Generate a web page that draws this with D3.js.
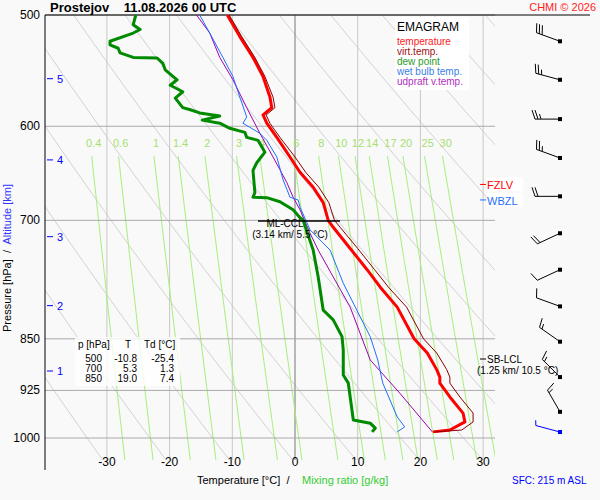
<!DOCTYPE html>
<html>
<head>
<meta charset="utf-8">
<script src="https://cdn.jsdelivr.net/npm/d3@7"></script>
<style>
body { margin:0; background:#f9f9f9; }
svg { font-family: Arial, "Liberation Sans", sans-serif; }
</style>
</head>
<body>
<div id="chart-area"></div>
<script>
// ---- data ----
var tempP = [500,518,536,553,572,582,589,597,611,631,647,663,680,700,708,733,759,781,807,850,870,894,905,914,935,960,974,987,990];
var tempT = [-10.8,-8.8,-6.7,-5.1,-4.0,-3.7,-5.1,-4.5,-2.9,-0.8,0.8,2.9,4.5,5.3,6.1,8.8,11.5,13.6,16.3,19.0,21.1,22.6,23.1,23.1,24.7,26.8,27.1,24.7,22.0];
var virtT = [-10.5,-8.5,-6.4,-4.8,-3.5,-3.2,-4.6,-4.0,-2.4,0.0,1.7,3.8,5.4,6.3,7.2,10.0,12.7,14.9,17.8,20.5,22.6,24.2,24.7,24.7,26.3,28.4,28.4,26.6,22.4];
var dewP = [500,508,512,515,522,525,528,532,536,536.5,541,547,556,561,567,573,582,584,587,590,594,597,602,606,611,614,626,637,645,669,674,674.5,679,688,697,700,735,768,811,824,847,866,902,914,935,971,976,984,990];
var dewT = [-25.4,-25.8,-24.7,-25.8,-29.5,-29.5,-28.2,-27.9,-25.8,-22.0,-21.1,-20.7,-18.8,-19.9,-17.9,-19.1,-17.9,-16.7,-15.2,-12.0,-14.8,-12.0,-10.4,-8.0,-7.7,-5.9,-4.8,-6.1,-6.7,-6.4,-6.7,-4.5,-2.4,-0.3,0.8,1.3,2.9,3.7,4.5,6.1,7.5,7.7,7.7,8.5,8.8,9.3,12.0,12.8,12.3];
var wetP = [500,515,536,553,572,591,597,607,614,631,655,674,677,685,711,735,776,820,847,880,914,966,982,990];
var wetT = [-15.2,-13.6,-11.5,-9.9,-8.8,-7.7,-8.3,-5.6,-4.5,-2.9,-1.9,-0.8,0.5,0.8,2.4,5.6,7.7,10.4,12.0,13.2,14.0,16.3,17.5,16.3];
var parcelP = [500,515,536,556,582,607,631,658,674,688,715,735,768,807,880,929,990];
var parcelT = [-15.7,-13.6,-12.0,-9.9,-7.7,-5.6,-3.5,-1.3,-0.3,0.8,2.4,3.7,6.1,8.8,12.0,16.7,21.9];

var windP   = [522,556,593,632,673,715,759,806,854,905,958,990];
var windDir = [290,285,270,290,270,245,245,290,305,315,330,285];
var windKt  = [30,25,25,25,20,20,10,10,15,15,15,5];

var pressureTicks = [500,600,700,850,925,1000];
var tempTicks = [-30,-20,-10,0,10,20,30];
var mixRatios = [0.4,0.6,1,1.4,2,3,4,6,8,10,12,14,17,20,25,30];
var altTicks = [{km:5,p:555},{km:4,p:634},{km:3,p:719},{km:2,p:805},{km:1,p:896}];
var tableRows = [["500","-10.8","-25.4"],["700","5.3","1.3"],["850","19.0","7.4"]];

// ---- setup ----
var svg = d3.select("#chart-area").append("svg")
    .attr("width", 600).attr("height", 500);
svg.append("rect").attr("width",600).attr("height",500).attr("fill","#f9f9f9");

var y = d3.scaleLog().domain([500,1000]).range([15,438]);
var x = d3.scaleLinear().domain([-40,40]).range([295-250.8,295+250.8]);
var L = 45, R = 495, T = 15, B = 460;

svg.append("clipPath").attr("id","grid").append("rect")
    .attr("x",L).attr("y",T).attr("width",R-L).attr("height",B-T);
svg.append("clipPath").attr("id","plot").append("rect")
    .attr("x",L).attr("y",T).attr("width",R-L).attr("height",470-T);

var grid = svg.append("g").attr("clip-path","url(#grid)");
var line = d3.line().x(function(d){return x(d[1]);}).y(function(d){return y(d[0]);});

// dry adiabats
var pr = d3.range(480, 1061, 10);
d3.range(230, 480, 10).forEach(function(th){
    grid.append("path")
        .attr("d", line(pr.map(function(p){ return [p, th*Math.pow(p/1000,0.286)-273.15]; })))
        .attr("fill","none").attr("stroke","#d2d2d2").attr("stroke-width",1);
});

// isotherms
tempTicks.forEach(function(t){
    grid.append("line").attr("x1",x(t)).attr("x2",x(t)).attr("y1",T).attr("y2",B)
        .attr("stroke", t===0 ? "#777" : "#c8c8c8");
});

// mixing ratio lines
function tdFromW(w,p){
    var e = w*p/(622+w), a = Math.log(e/6.112);
    return 243.5*a/(17.67-a);
}
var prw = d3.range(630, 1041, 10);
mixRatios.forEach(function(w){
    grid.append("path")
        .attr("d", line(prw.map(function(p){ return [p, tdFromW(w,p)]; })))
        .attr("fill","none").attr("stroke","#a6f07a").attr("stroke-width",1);
    svg.append("text").attr("x", x(tdFromW(w,650))).attr("y",147)
        .attr("text-anchor","middle").attr("font-size",11).attr("fill","#a6e070").text(w);
});

// pressure lines
pressureTicks.forEach(function(p){
    svg.append("line").attr("x1",L).attr("x2",R).attr("y1",y(p)).attr("y2",y(p))
        .attr("stroke","#aaa");
    svg.append("text").attr("x",40).attr("y",y(p)+4).attr("text-anchor","end")
        .attr("font-size",12).text(p);
});
svg.append("line").attr("x1",L).attr("x2",590).attr("y1",T).attr("y2",T).attr("stroke","#000");
svg.append("line").attr("x1",L).attr("x2",L).attr("y1",T).attr("y2",470).attr("stroke","#000");

tempTicks.forEach(function(t){
    svg.append("text").attr("x",x(t)).attr("y",466).attr("text-anchor","middle")
        .attr("font-size",12).text(t);
});

altTicks.forEach(function(a){
    svg.append("line").attr("x1",47).attr("x2",53).attr("y1",y(a.p)).attr("y2",y(a.p)).attr("stroke","#00f");
    svg.append("text").attr("x",57).attr("y",y(a.p)+4).attr("font-size",11).attr("fill","#00f").text(a.km);
});

// ---- profiles ----
var plot = svg.append("g").attr("clip-path","url(#plot)");
function profile(P, V, color, w){
    plot.append("path").attr("d", line(P.map(function(p,i){ return [p, V[i]]; })))
        .attr("fill","none").attr("stroke",color).attr("stroke-width",w).attr("stroke-linejoin","round");
}
profile(parcelP, parcelT, "#a000b0", 1);
profile(wetP, wetT, "#1f6fff", 1);
profile(dewP, dewT, "#008a00", 3);
profile(tempP, tempT, "#ff0000", 3);
profile(tempP, virtT, "#8b0000", 1);

// ---- level annotations ----
svg.append("line").attr("x1",258).attr("x2",340).attr("y1",221).attr("y2",221).attr("stroke","#000").attr("stroke-width",1.5);
svg.append("text").attr("x",285).attr("y",227).attr("text-anchor","middle").attr("font-size",10).text("ML-CCL");
svg.append("text").attr("x",290).attr("y",238).attr("text-anchor","middle").attr("font-size",10).text("(3.14 km/ 5.5 °C)");

svg.append("line").attr("x1",480).attr("x2",486).attr("y1",y(660)).attr("y2",y(660)).attr("stroke","#f00");
svg.append("rect").attr("x",487).attr("y",y(660)-7).attr("width",36).attr("height",14).attr("fill","#fff");
svg.append("text").attr("x",487).attr("y",y(660)+5).attr("font-size",11).attr("fill","#f00").text("FZLV");
svg.append("line").attr("x1",480).attr("x2",486).attr("y1",y(677)).attr("y2",y(677)).attr("stroke","#1f6fff");
svg.append("rect").attr("x",487).attr("y",y(677)-7).attr("width",36).attr("height",14).attr("fill","#fff");
svg.append("text").attr("x",487).attr("y",y(677)+5).attr("font-size",11).attr("fill","#1f6fff").text("WBZL");

svg.append("line").attr("x1",480).attr("x2",486).attr("y1",359).attr("y2",359).attr("stroke","#000");
svg.append("text").attr("x",487).attr("y",363).attr("font-size",10).text("SB-LCL");
svg.append("text").attr("x",477).attr("y",374).attr("font-size",10).text("(1.25 km/ 10.5 °C)");

// ---- legend ----
svg.append("rect").attr("x",395).attr("y",17).attr("width",74).attr("height",73).attr("fill","#fff");
svg.append("text").attr("x",397).attr("y",31).attr("font-size",12).text("EMAGRAM");
var legend = [["temperature","#ff2020"],["virt.temp.","#a01010"],["dew point","#2a9a2a"],["wet bulb temp.","#3a80e8"],["udpraft v.temp.","#b030c0"]];
legend.forEach(function(l,i){
    svg.append("text").attr("x",397).attr("y",45+i*10).attr("font-size",10).attr("fill",l[1]).text(l[0]);
});

// ---- table ----
svg.append("rect").attr("x",75).attr("y",337).attr("width",105).attr("height",49).attr("fill","#fff").attr("opacity",0.8);
svg.append("text").attr("x",78).attr("y",348).attr("font-size",10).text("p [hPa]");
svg.append("text").attr("x",128).attr("y",348).attr("text-anchor","middle").attr("font-size",10).text("T");
svg.append("text").attr("x",144).attr("y",348).attr("font-size",10).text("Td [°C]");
tableRows.forEach(function(r,i){
    var yy = 362 + i*10;
    svg.append("text").attr("x",102).attr("y",yy).attr("text-anchor","end").attr("font-size",10).text(r[0]);
    svg.append("text").attr("x",137).attr("y",yy).attr("text-anchor","end").attr("font-size",10).text(r[1]);
    svg.append("text").attr("x",174).attr("y",yy).attr("text-anchor","end").attr("font-size",10).text(r[2]);
});

// ---- wind barbs ----
windP.forEach(function(p,i){
    var cx = 560, cy = (i === windP.length-1) ? 432 : y(p);
    var col = (i === windP.length-1) ? "#00f" : "#000";
    var a = windDir[i]*Math.PI/180;
    var ux = Math.sin(a), uy = -Math.cos(a);          // toward where wind comes from
    var len = 25, tx = cx + ux*len, ty = cy + uy*len;
    var g = svg.append("g").attr("stroke",col).attr("fill","none");
    g.append("line").attr("x1",cx).attr("y1",cy).attr("x2",tx).attr("y2",ty);
    g.append("rect").attr("x",cx-2).attr("y",cy-2).attr("width",4).attr("height",4).attr("fill",col).attr("stroke","none");
    var nx = -uy, ny = ux;
    if (ny > 0 || (ny === 0 && nx > 0)) { nx = -nx; ny = -ny; }
    var kt = windKt[i], k = 0;
    while (kt >= 10) {
        var bx = tx - ux*k*3, by = ty - uy*k*3;
        g.append("line").attr("x1",bx).attr("y1",by).attr("x2",bx+nx*9+ux*3).attr("y2",by+ny*9+uy*3);
        kt -= 10; k++;
    }
    if (kt >= 5) {
        var hx = tx - ux*(k === 0 ? 0 : k*3), hy = ty - uy*(k === 0 ? 0 : k*3);
        g.append("line").attr("x1",hx).attr("y1",hy).attr("x2",hx+nx*5+ux*1.5).attr("y2",hy+ny*5+uy*1.5);
    }
});

// ---- titles ----
svg.append("text").attr("x",50).attr("y",12).attr("font-size",13).attr("font-weight","bold")
    .attr("xml:space","preserve").text("Prostejov    11.08.2026 00 UTC");
svg.append("text").attr("x",596).attr("y",11).attr("text-anchor","end").attr("font-size",11).attr("fill","#f22").text("CHMI © 2026");
svg.append("text").attr("x",197).attr("y",484).attr("font-size",11).attr("xml:space","preserve").text("Temperature [°C]  /");
svg.append("text").attr("x",302).attr("y",484).attr("font-size",11).attr("fill","#3c3").text("Mixing ratio [g/kg]");
svg.append("text").attr("x",512).attr("y",484).attr("font-size",10).attr("fill","#00f").text("SFC: 215 m ASL");

var yl = svg.append("text").attr("transform","translate(11,258) rotate(-90)")
    .attr("text-anchor","middle").attr("font-size",11).attr("xml:space","preserve");
yl.append("tspan").text("Pressure [hPa]  /  ");
yl.append("tspan").attr("fill","#33f").text("Altitude [km]");
</script>
</body>
</html>
